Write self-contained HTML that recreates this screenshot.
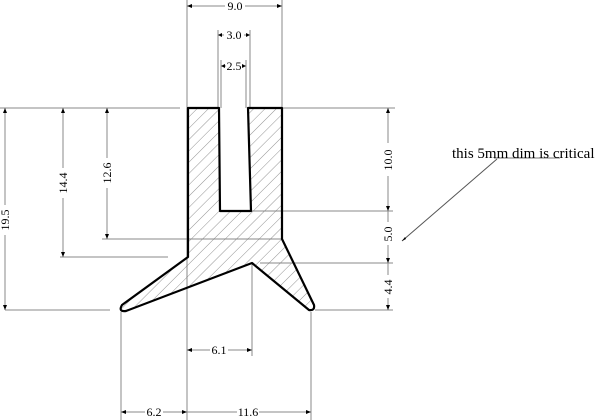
<!DOCTYPE html>
<html><head><style>body{margin:0;background:#fff}svg{display:block}</style></head><body>
<svg width="600" height="420" viewBox="0 0 600 420" xmlns="http://www.w3.org/2000/svg" font-family="Liberation Serif, serif">
<defs>
<pattern id="h" width="8" height="8" patternUnits="userSpaceOnUse" patternTransform="rotate(45)">
<line x1="0" y1="0" x2="0" y2="8" stroke="#777" stroke-width="0.8"/>
</pattern>
</defs>
<g stroke="#888" stroke-width="1" fill="none">
<line x1="187" y1="0" x2="187" y2="420"/>
<line x1="282" y1="0" x2="282" y2="108"/>
<line x1="218" y1="30" x2="218" y2="108"/>
<line x1="250" y1="30" x2="250" y2="108"/>
<line x1="221" y1="60" x2="221" y2="108"/>
<line x1="246" y1="60" x2="246" y2="108"/>
<line x1="121" y1="312" x2="121" y2="420"/>
<line x1="252" y1="263" x2="252" y2="356"/>
<line x1="311" y1="312" x2="311" y2="420"/>
<line x1="0" y1="108" x2="180" y2="108"/>
<line x1="282" y1="108" x2="395" y2="108"/>
<line x1="250" y1="211" x2="393" y2="211"/>
<line x1="102" y1="239" x2="282" y2="239"/>
<line x1="60" y1="257" x2="168" y2="257"/>
<line x1="260" y1="263" x2="393" y2="263"/>
<line x1="5" y1="310" x2="110" y2="310"/>
<line x1="315" y1="310" x2="393" y2="310"/>
<line x1="187" y1="6" x2="225" y2="6"/><line x1="245" y1="6" x2="282" y2="6"/>
<line x1="218" y1="35" x2="224" y2="35"/><line x1="244" y1="35" x2="250" y2="35"/>
<line x1="221" y1="66" x2="226" y2="66"/><line x1="242" y1="66" x2="246" y2="66"/>
<line x1="5" y1="108" x2="5" y2="205"/><line x1="5" y1="235" x2="5" y2="310"/>
<line x1="63" y1="108" x2="63" y2="168"/><line x1="63" y1="198" x2="63" y2="257"/>
<line x1="107" y1="108" x2="107" y2="158"/><line x1="107" y1="188" x2="107" y2="239"/>
<line x1="388" y1="108" x2="388" y2="143"/><line x1="388" y1="176" x2="388" y2="211"/>
<line x1="388" y1="211" x2="388" y2="222"/><line x1="388" y1="245" x2="388" y2="263"/>
<line x1="388" y1="263" x2="388" y2="275"/><line x1="388" y1="298" x2="388" y2="310"/>
<line x1="187" y1="350" x2="210" y2="350"/><line x1="228" y1="350" x2="252" y2="350"/>
<line x1="121" y1="412" x2="145" y2="412"/><line x1="163" y1="412" x2="187" y2="412"/>
<line x1="187" y1="412" x2="237" y2="412"/><line x1="259" y1="412" x2="311" y2="412"/>
<line x1="497" y1="159" x2="402" y2="241" stroke="#555"/>
<line x1="494" y1="158" x2="560" y2="158" stroke="#777"/>
</g>
<g fill="#000">
<path d="M187 6l5 -2v4z M282 6l-5 -2v4z M218 35l4 -2v4z M250 35l-4 -2v4z M221 66l4 -2v4z M246 66l-4 -2v4z M5 108l-2 5h4z M5 310l-2 -5h4z M63 108l-2 5h4z M63 257l-2 -5h4z M107 108l-2 5h4z M107 239l-2 -5h4z M388 108l-2 5h4z M388 211l-2 -5h4z M388 263l-2 -5h4z M388 310l-2 -5h4z M187 350l5 -2v4z M252 350l-5 -2v4z M121 412l5 -2v4z M187 412l-5 -2v4z M311 412l-5 -2v4z M402 241l3 -4l1 2z"/>
</g>
<path d="M188 108 L219 108 L220 211 L251 211 L248 108 L282 108 L282 239 L314 305 Q315 311 309 310 L252 263 L126 311 Q118 312 122 305 L188 257 Z" fill="url(#h)" stroke="#000" stroke-width="2.2" stroke-linejoin="round"/>
<g font-size="12" fill="#000" text-anchor="middle">
<text x="235" y="10">9.0</text>
<text x="234" y="39">3.0</text>
<text x="234" y="70">2.5</text>
<text x="219" y="354">6.1</text>
<text x="154" y="416">6.2</text>
<text x="248" y="416">11.6</text>
<text transform="translate(9,220) rotate(-90)">19.5</text>
<text transform="translate(67,183) rotate(-90)">14.4</text>
<text transform="translate(111,173) rotate(-90)">12.6</text>
<text transform="translate(392,160) rotate(-90)">10.0</text>
<text transform="translate(392,234) rotate(-90)">5.0</text>
<text transform="translate(392,287) rotate(-90)">4.4</text>
</g>
<text x="452" y="158" font-size="15" fill="#000">this 5mm dim is critical</text>
</svg>
</body></html>
